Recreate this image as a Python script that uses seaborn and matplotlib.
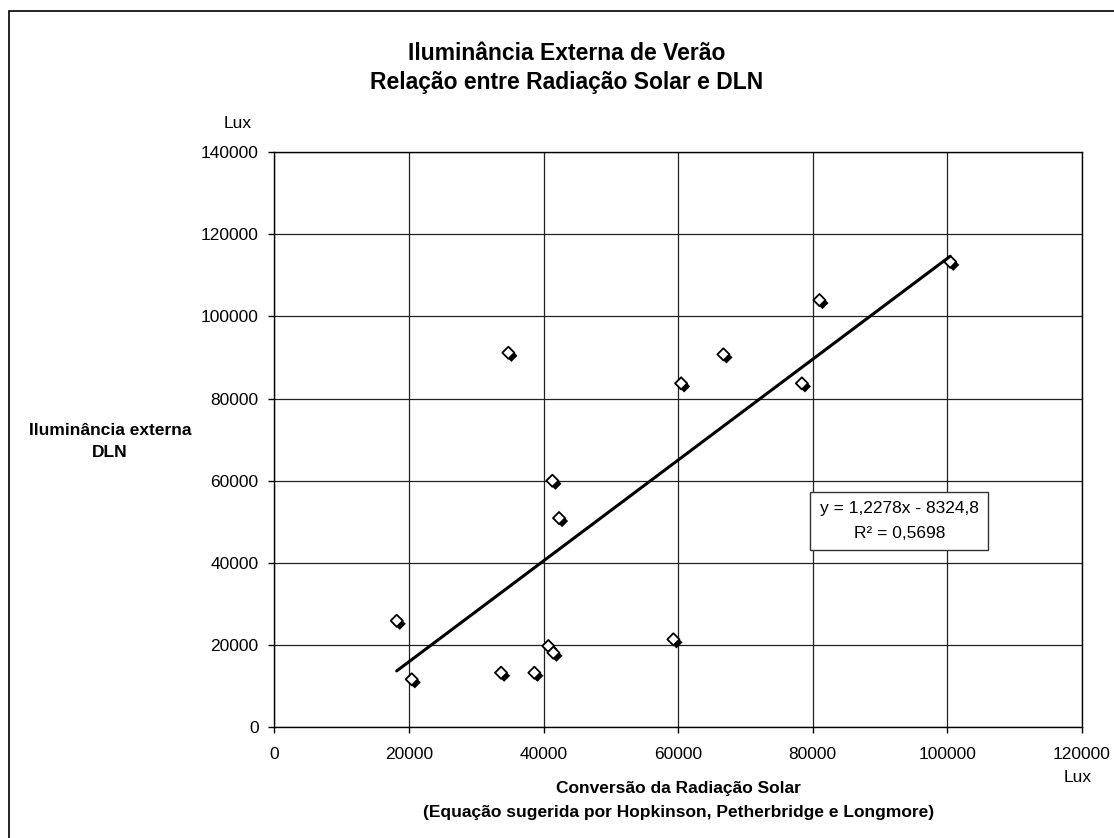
import numpy as np
import pandas as pd
import seaborn as sns
import matplotlib.pyplot as plt
import matplotlib.patheffects as pe
from matplotlib.patches import Rectangle

# values (lux)
radiacao_solar = [18170, 20400, 33680, 38630, 40710, 41460, 59300, 34770,
                  60450, 41310, 100450, 81010, 66740, 78400, 42300]
dln = [25830, 11550, 13160, 13160, 19670, 18030, 21300, 91150,
       83690, 59960, 113330, 104000, 90760, 83690, 50860]

x_ticks = [0, 20000, 40000, 60000, 80000, 100000, 120000]
y_ticks = [0, 20000, 40000, 60000, 80000, 100000, 120000, 140000]

titulo = 'Iluminância Externa de Verão\nRelação entre Radiação Solar e DLN'
rotulo_x = 'Conversão da Radiação Solar\n(Equação sugerida por Hopkinson, Petherbridge e Longmore)'
rotulo_y = 'Iluminância externa\nDLN'
equacao = 'y = 1,2278x - 8324,8\nR² = 0,5698'

sns.set_style('white')
plt.rcParams['font.family'] = ['Liberation Sans', 'DejaVu Sans']
plt.rcParams['text.color'] = 'black'
plt.rcParams['axes.labelcolor'] = 'black'

df = pd.DataFrame({'radiacao': radiacao_solar, 'dln': dln})

fig = plt.figure(figsize=(11.14, 8.38), dpi=100)
ax = fig.add_axes([0.2464, 0.1328, 0.7246, 0.6854])

# outer chart border (only left/top visible in the crop)
fig.patches.append(Rectangle((9 / 1114, -0.05), 1.2, 1 - 11 / 838 + 0.05,
                             transform=fig.transFigure, fill=False,
                             edgecolor='black', linewidth=1.2))

sns.regplot(data=df, x='radiacao', y='dln', ax=ax, ci=None, marker='D',
            scatter_kws=dict(s=38, facecolor='white', edgecolor='black',
                             linewidths=1.3, alpha=1,
                             path_effects=[pe.SimplePatchShadow(offset=(2.2, -2.2), shadow_rgbFace='black', alpha=1),
                                           pe.Normal()]),
            line_kws=dict(color='black', linewidth=2.2))

ax.set_xlim(0, 120000)
ax.set_ylim(0, 140000)
ax.set_xticks(x_ticks)
ax.set_yticks(y_ticks)
ax.set_xticklabels([str(v) for v in x_ticks])
ax.set_yticklabels([str(v) for v in y_ticks])
ax.tick_params(direction='out', length=4.5, width=1, colors='black',
               labelsize=12.5, bottom=True, left=True)
ax.tick_params(axis='x', pad=10)
ax.tick_params(axis='y', pad=7)
ax.grid(True, color='#222222', linewidth=0.9)
ax.set_axisbelow(True)
for s in ax.spines.values():
    s.set_color('black')
    s.set_linewidth(1)

ax.set_xlabel(rotulo_x, fontsize=12.5, fontweight='bold', linespacing=1.75)
ax.xaxis.set_label_coords(0.5, -0.128)
ax.xaxis.label.set_va('center')
ax.set_ylabel(rotulo_y, fontsize=12.5, fontweight='bold', rotation=0,
              ha='center', va='center', linespacing=1.6)
ax.yaxis.set_label_coords(-0.204, 0.497)

fig.text(567 / 1114, 1 - 68 / 838, titulo, ha='center', va='center',
         fontsize=16.5, fontweight='bold', linespacing=1.3)
fig.text(238 / 1114, 1 - 123 / 838, 'Lux', ha='center', va='center', fontsize=12.5)
fig.text(1078 / 1114, 1 - 777 / 838, 'Lux', ha='center', va='center', fontsize=12.5)

ax.text(0.774, 0.358, equacao, transform=ax.transAxes, ha='center', va='center',
        multialignment='center', fontsize=12.5, linespacing=1.8,
        bbox=dict(boxstyle='square,pad=0.55', facecolor='white',
                  edgecolor='#333333', linewidth=1))

fig.savefig('out.png', dpi=100)
